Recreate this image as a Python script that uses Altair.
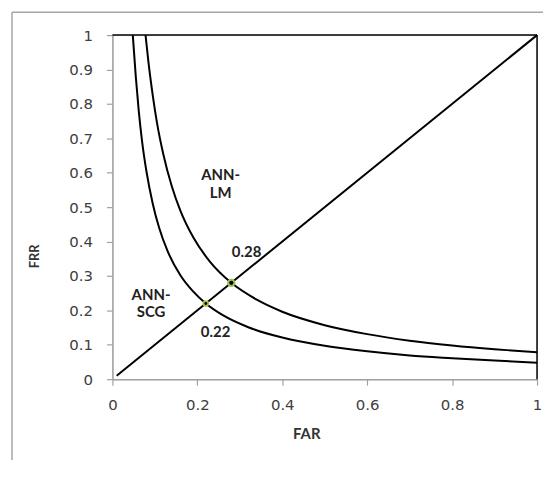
import altair as alt
import pandas as pd

# ---- data ----
scg_far = [0.048, 0.055, 0.062, 0.07, 0.08, 0.095, 0.11, 0.13, 0.16, 0.19, 0.22, 0.26, 0.32, 0.4, 0.5, 0.6, 0.7, 0.8, 0.9, 1.0]
scg_frr = [1.0, 0.88, 0.78, 0.69, 0.605, 0.51, 0.44, 0.372, 0.302, 0.255, 0.22, 0.186, 0.151, 0.121, 0.097, 0.081, 0.069, 0.061, 0.054, 0.048]

lm_far = [0.078, 0.085, 0.095, 0.105, 0.12, 0.14, 0.16, 0.19, 0.23, 0.28, 0.34, 0.4, 0.5, 0.6, 0.7, 0.8, 0.9, 1.0]
lm_frr = [1.0, 0.92, 0.825, 0.745, 0.653, 0.56, 0.49, 0.413, 0.341, 0.28, 0.231, 0.196, 0.157, 0.131, 0.112, 0.098, 0.087, 0.078]

diag_far = [0.01, 1.0]
diag_frr = [0.01, 1.0]

eer_far = [0.22, 0.28]
eer_frr = [0.22, 0.28]
eer_size_outer = [45, 70]
eer_size_inner = [8, 18]

label_text = ["ANN-", "LM", "0.28", "ANN-", "SCG", "0.22"]
label_far = [0.255, 0.255, 0.316, 0.091, 0.091, 0.243]
label_frr = [0.592, 0.540, 0.370, 0.246, 0.194, 0.136]

x_ticks = [0, 0.2, 0.4, 0.6, 0.8, 1]
y_ticks = [0, 0.1, 0.2, 0.3, 0.4, 0.5, 0.6, 0.7, 0.8, 0.9, 1]

# ---- tables ----
rows = []
for i, (a, b) in enumerate(zip(scg_far, scg_frr)):
    rows.append({"series": "ANN-SCG", "i": i, "FAR": a, "FRR": b})
for i, (a, b) in enumerate(zip(lm_far, lm_frr)):
    rows.append({"series": "ANN-LM", "i": i, "FAR": a, "FRR": b})
curves = pd.DataFrame(rows)
diag = pd.DataFrame({"FAR": diag_far, "FRR": diag_frr})
eer = pd.DataFrame({"FAR": eer_far, "FRR": eer_frr, "so": eer_size_outer, "si": eer_size_inner})
labels = pd.DataFrame({"t": label_text, "FAR": label_far, "FRR": label_frr})

xscale = alt.Scale(domain=[0, 1], nice=False, zero=False)
yscale = alt.Scale(domain=[0, 1], nice=False, zero=False)

axis_common = dict(
    grid=False,
    domainColor="#a0a0a0",
    domainWidth=1.5,
    tickColor="#a0a0a0",
    tickSize=6,
    tickWidth=1.2,
    labelFont="DejaVu Sans",
    labelFontSize=15,
    labelColor="#404040",
    labelOverlap=False,
    labelFlush=False,
    format="~g",
    titleFont="Lato",
    titleFontWeight="bold",
    titleColor="#333333",
)

x_axis = alt.Axis(values=x_ticks, title="FAR", labelPadding=12,
                  titleX=195, titleY=55, titleBaseline="middle", titleFontSize=15,
                  titleAlign="center", **axis_common)
y_axis = alt.Axis(values=y_ticks, title="FRR", labelPadding=14,
                  titleX=-78, titleY=222, titleAngle=-90, titleFontSize=13,
                  titleBaseline="middle", titleAlign="center",
                  **axis_common)
x_enc = alt.X("FAR:Q", scale=xscale, axis=x_axis)
y_enc = alt.Y("FRR:Q", scale=yscale, axis=y_axis)

lines = alt.Chart(curves).mark_line(color="black", strokeWidth=2, interpolate="monotone").encode(
    x=x_enc, y=y_enc, detail="series:N", order="i:Q"
)
diag_line = alt.Chart(diag).mark_line(color="black", strokeWidth=2).encode(x=x_enc, y=y_enc)
top_rule = alt.Chart(pd.DataFrame({"FRR": [1]})).mark_rule(color="black", strokeWidth=1.5).encode(y=y_enc)
right_rule = alt.Chart(pd.DataFrame({"FAR": [1]})).mark_rule(color="black", strokeWidth=1.5).encode(x=x_enc)

outer_dot = alt.Chart(eer).mark_point(filled=True, color="#9cc04f", opacity=1).encode(
    x=x_enc, y=y_enc, size=alt.Size("so:Q", scale=None, legend=None)
)
inner_dot = alt.Chart(eer).mark_point(filled=True, color="black", opacity=1).encode(
    x=x_enc, y=y_enc, size=alt.Size("si:Q", scale=None, legend=None)
)

text = alt.Chart(labels).mark_text(font="Lato", fontSize=15, fontWeight="bold",
                                    color="#222222", align="center", baseline="middle").encode(
    x=x_enc, y=y_enc, text="t:N"
)

border_top = alt.Chart(pd.DataFrame({"a": [0]})).mark_rule(color="#a6a6a6", strokeWidth=1.5).encode(
    x=alt.value(-101), x2=alt.value(440), y=alt.value(-23)
)
border_left = alt.Chart(pd.DataFrame({"a": [0]})).mark_rule(color="#a6a6a6", strokeWidth=1.5).encode(
    x=alt.value(-101), y=alt.value(-23), y2=alt.value(440)
)

chart = alt.layer(
    border_top, border_left, top_rule, right_rule, lines, diag_line, outer_dot, inner_dot, text
).properties(
    width=427, height=346,
    padding={"left": 105, "top": 26, "right": 6, "bottom": 80},
    autosize=alt.AutoSizeParams(type="none"),
).configure_view(stroke=None).configure(background="white")

chart.save("out.html", embed_options={"renderer": "svg", "actions": False})
